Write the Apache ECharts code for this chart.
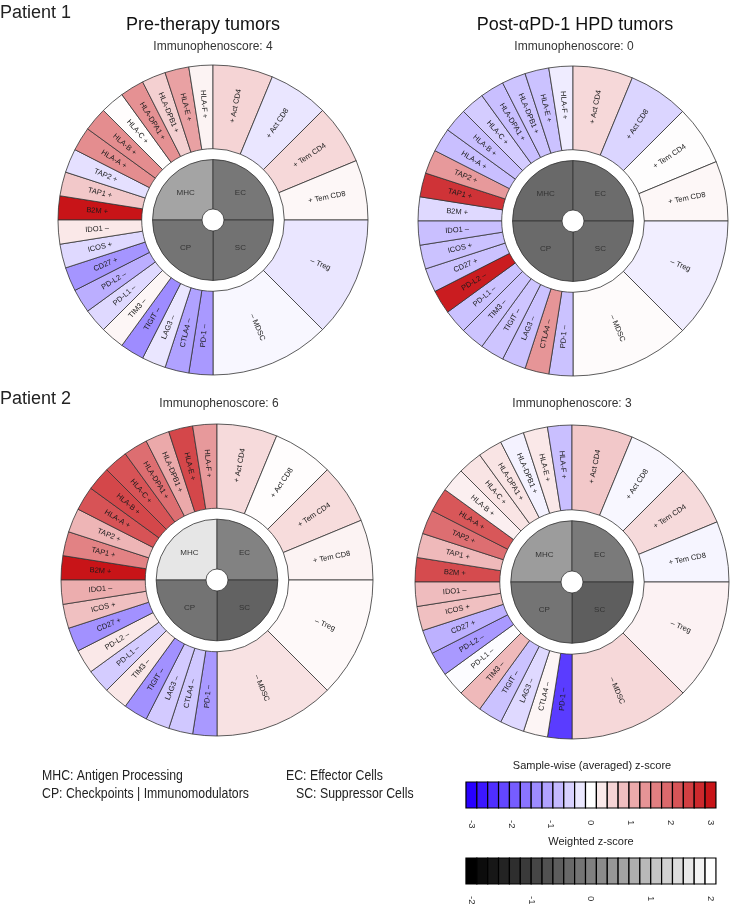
<!DOCTYPE html>
<html>
<head>
<meta charset="utf-8">
<title>Immunophenoscore</title>
<script src="https://cdn.jsdelivr.net/npm/echarts@6/dist/echarts.min.js"></script>
<style>
html, body { margin: 0; padding: 0; background: #fff; }
#ips_main { width: 739px; height: 910px; }
</style>
</head>
<body>
<div id="ips_main"></div>
<script>
// 外圈: 从 9 点钟方向开始顺时针
const cellNames = ['B2M', 'TAP1', 'TAP2', 'HLA-A', 'HLA-B', 'HLA-C', 'HLA-DPA1', 'HLA-DPB1', 'HLA-E', 'HLA-F',
    'Act CD4', 'Act CD8', 'Tem CD4', 'Tem CD8',
    'Treg', 'MDSC',
    'PD-1', 'CTLA4', 'LAG3', 'TIGIT', 'TIM3', 'PD-L1', 'PD-L2', 'CD27', 'ICOS', 'IDO1']
const cellSigns = ['+', '+', '+', '+', '+', '+', '+', '+', '+', '+',
    '+', '+', '+', '+',
    '–', '–',
    '–', '–', '–', '–', '–', '–', '–', '+', '+', '–']
const cellGroups = ['MHC', 'MHC', 'MHC', 'MHC', 'MHC', 'MHC', 'MHC', 'MHC', 'MHC', 'MHC',
    'EC', 'EC', 'EC', 'EC',
    'SC', 'SC',
    'CP', 'CP', 'CP', 'CP', 'CP', 'CP', 'CP', 'CP', 'CP', 'CP']
// 内圈: MHC, EC, SC, CP
const groupNames = ['MHC', 'EC', 'SC', 'CP']

// sample-wise z-score
const zP1Pre = [3.0, 0.7, -0.36, 1.45, 1.45, 0.02, 1.4, 0.6, 1.2, 0.15,
    0.55, -0.3, 0.5, 0.1,
    -0.3, -0.1,
    -1.2, -1.1, -0.3, -1.35, 0.12, -0.45, -0.95, -1.25, -0.45, 0.3]
const zP1Post = [-0.45, 2.6, 1.3, -0.75, -0.75, -0.6, -0.75, -0.7, -0.72, -0.22,
    0.5, -0.5, 0.03, 0.1,
    -0.2, 0.05,
    -0.72, 1.35, -0.72, -0.68, -0.7, -0.72, 2.9, -0.72, -0.72, -0.75]
const zP2Pre = [3.0, 1.6, 0.95, 2.2, 2.35, 2.2, 1.85, 1.1, 2.35, 1.3,
    0.47, 0.02, 0.45, 0.15,
    0.08, 0.37,
    -1.2, -0.65, -0.62, -1.3, 0.3, -0.6, 0.3, -1.3, 0.8, 1.05]
const zP2Post = [2.3, 0.9, 1.85, 2.15, 0.2, 0.35, 0.35, -0.15, 0.3, -0.75,
    0.7, -0.1, 0.47, -0.12,
    0.16, 0.5,
    -2.3, 0.13, -0.45, -0.72, 0.9, -0.04, -1.2, -0.92, 0.8, 0.85]

// weighted z-score (MHC, EC, SC, CP)
const wP1Pre = [0.57, -0.13, -0.21, -0.18]
const wP1Post = [-0.35, -0.3, -0.32, -0.33]
const wP2Pre = [1.6, 0.04, -0.46, -0.2]
const wP2Post = [0.45, -0.09, -0.53, -0.18]

const ipsScores = [4, 0, 6, 3]

// 色标块
const zBlocks = [-3, -2.727, -2.455, -2.182, -1.909, -1.636, -1.364, -1.091, -0.818, -0.545, -0.273, 0,
    0.273, 0.545, 0.818, 1.091, 1.364, 1.636, 1.909, 2.182, 2.455, 2.727, 3]
const wBlocks = [-2, -1.818, -1.636, -1.455, -1.273, -1.091, -0.909, -0.727, -0.545, -0.364, -0.182, 0,
    0.182, 0.364, 0.545, 0.727, 0.909, 1.091, 1.273, 1.455, 1.636, 1.818, 2]

const FONT = 'Liberation Sans, Arial, sans-serif'

function zColor (z) {
    let t = Math.max(-3, Math.min(3, z)) / 3
    let end = t < 0 ? [40, 0, 255] : [200, 20, 24]
    let a = Math.abs(t)
    let c = end.map(v => Math.round(255 + (v - 255) * a))
    return 'rgb(' + c.join(',') + ')'
}
function wColor (w) {
    let g = Math.round((Math.max(-2, Math.min(2, w)) + 2) / 4 * 255)
    return 'rgb(' + g + ',' + g + ',' + g + ')'
}
function cellLabel (i) {
    let g = cellGroups[i]
    if (g === 'EC' || g === 'SC') return cellSigns[i] + ' ' + cellNames[i]
    return cellNames[i] + ' ' + cellSigns[i]
}
function cellShare (i) {
    let n = cellGroups.filter(g => g === cellGroups[i]).length
    return 1 / n
}

const wheels = [
    { cx: 213, cy: 220, r: 155, z: zP1Pre, w: wP1Pre },
    { cx: 573, cy: 221, r: 155, z: zP1Post, w: wP1Post },
    { cx: 217, cy: 580, r: 156, z: zP2Pre, w: wP2Pre },
    { cx: 572, cy: 582, r: 157, z: zP2Post, w: wP2Post }
]

let series = []
wheels.forEach(wh => {
    series.push({
        type: 'pie',
        center: [wh.cx, wh.cy],
        radius: [wh.r * 0.46, wh.r],
        startAngle: 180,
        clockwise: true,
        silent: true,
        avoidLabelOverlap: false,
        itemStyle: { borderColor: '#333', borderWidth: 0.8 },
        label: {
            show: true,
            position: 'inside',
            rotate: 'radial',
            fontSize: 7.5,
            fontFamily: FONT,
            color: '#1a1a1a'
        },
        labelLine: { show: false },
        data: cellNames.map((n, i) => ({
            name: cellLabel(i),
            value: cellShare(i),
            itemStyle: { color: zColor(wh.z[i]) }
        }))
    })
    series.push({
        type: 'pie',
        center: [wh.cx, wh.cy],
        radius: [11, wh.r * 0.39],
        startAngle: 180,
        clockwise: true,
        silent: true,
        avoidLabelOverlap: false,
        itemStyle: { borderColor: '#333', borderWidth: 0.8 },
        label: {
            show: true,
            position: 'inside',
            fontSize: 8,
            fontFamily: FONT,
            color: '#333'
        },
        labelLine: { show: false },
        data: groupNames.map((g, i) => ({
            name: g,
            value: 1,
            itemStyle: { color: wColor(wh.w[i]) }
        }))
    })
})

function blockSeries (idx, blocks, half, colorFn) {
    return {
        type: 'custom',
        xAxisIndex: idx,
        yAxisIndex: idx,
        clip: false,
        silent: true,
        data: blocks.map(v => [v]),
        renderItem: (params, api) => {
            let v = api.value(0)
            let p0 = api.coord([v - half, 1])
            let p1 = api.coord([v + half, 0])
            return {
                type: 'rect',
                shape: { x: p0[0], y: p0[1], width: p1[0] - p0[0], height: p1[1] - p0[1] },
                style: { fill: colorFn(v), stroke: '#000', lineWidth: 1.2 }
            }
        }
    }
}
series.push(blockSeries(0, zBlocks, 3 / 22, zColor))
series.push(blockSeries(1, wBlocks, 2 / 22, wColor))

function barAxis (idx, lo, hi) {
    return {
        type: 'value',
        gridIndex: idx,
        min: lo,
        max: hi,
        interval: 1,
        axisLine: { show: false },
        axisTick: { show: false },
        splitLine: { show: false },
        axisLabel: { rotate: -90, fontSize: 9.5, fontFamily: FONT, color: '#333', margin: 12 }
    }
}

function txt (text, x, y, size, color) {
    return {
        type: 'text',
        x: x,
        y: y,
        style: {
            text: text,
            font: size + 'px ' + FONT,
            fill: color || '#111',
            textAlign: 'center',
            align: 'center',
            textVerticalAlign: 'middle',
            verticalAlign: 'middle'
        }
    }
}
function txtLeft (text, x, y, size, narrow) {
    let t = txt(text, x, y, size, '#222')
    t.style.textAlign = 'left'
    t.style.align = 'left'
    // 窄体字
    if (narrow) t.scaleX = 0.82
    return t
}

let option = {
    backgroundColor: '#fff',
    animation: false,
    grid: [
        { left: 471.4, top: 782, width: 239.1, height: 26 },
        { left: 471.4, top: 858, width: 239.1, height: 26 }
    ],
    xAxis: [barAxis(0, -3, 3), barAxis(1, -2, 2)],
    yAxis: [
        { type: 'value', gridIndex: 0, min: 0, max: 1, show: false },
        { type: 'value', gridIndex: 1, min: 0, max: 1, show: false }
    ],
    graphic: [
        txtLeft('Patient 1', 0, 13, 18),
        txtLeft('Patient 2', 0, 399, 18),
        txt('Pre-therapy tumors', 203, 25, 18),
        txt('Post-αPD-1 HPD tumors', 575, 25, 18),
        txt('Immunophenoscore: ' + ipsScores[0], 213, 47, 12, '#333'),
        txt('Immunophenoscore: ' + ipsScores[1], 574, 47, 12, '#333'),
        txt('Immunophenoscore: ' + ipsScores[2], 219, 404, 12, '#333'),
        txt('Immunophenoscore: ' + ipsScores[3], 572, 404, 12, '#333'),
        txtLeft('MHC: Antigen Processing', 42, 776, 15, true),
        txtLeft('CP: Checkpoints | Immunomodulators', 42, 794, 15, true),
        txtLeft('EC: Effector Cells', 286, 776, 15, true),
        txtLeft('SC: Suppressor Cells', 296, 794, 15, true),
        txt('Sample-wise (averaged) z-score', 592, 766, 11, '#222'),
        txt('Weighted z-score', 591, 842, 11, '#222')
    ],
    series: series
}

let myChart = echarts.init(document.getElementById('ips_main'))
myChart.setOption(option)
window.addEventListener('resize', () => {
    myChart.resize()
})
</script>
</body>
</html>
